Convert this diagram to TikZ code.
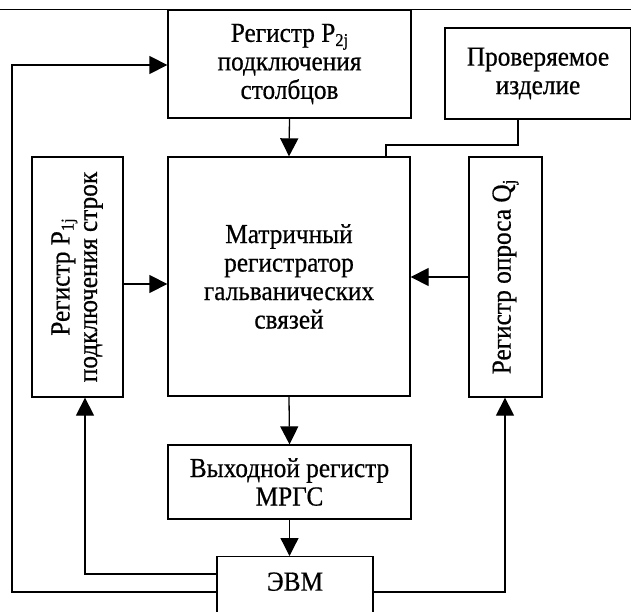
\documentclass[tikz,border=0pt]{standalone}
\usepackage{fontspec}
\setmainfont[FakeStretch=0.92,FakeBold=0.6]{Liberation Serif}
\usetikzlibrary{arrows.meta,calc}
\newcommand\sbs[1]{\raisebox{-0.15em}{\fontsize{18}{18}\selectfont #1}}
\begin{document}
\begin{tikzpicture}[x=1pt,y=-1pt,line width=1.3pt,
  box/.style={draw,line width=1.3pt,align=center,inner sep=0pt,
    font=\fontsize{27.5}{28.5}\selectfont},
  arr/.style={-{Triangle[length=18pt,width=18pt]}},
  wire/.style={line width=1.3pt}]
\useasboundingbox (0,0) rectangle (631,612);
\clip (0,0) rectangle (631,612);
% header rule
\draw[wire] (0,9.5) -- (631,9.5);
% boxes
\node[box,minimum width=243,minimum height=108] (p2) at (289.5,64)
  {Регистр P\sbs{2j}\\подключения\\столбцов};
\node[box,minimum width=186,minimum height=91] (item) at (538,73.5)
  {Проверяемое\\изделие};
\node[box,minimum width=242,minimum height=239] (matrix) at (289,276.5)
  {Матричный\\регистратор\\гальванических\\связей};
\node[box,minimum width=91,minimum height=240] (left) at (77.5,277)
  {\rotatebox{90}{\begin{tabular}{@{}c@{}}Регистр P\sbs{1j}\\[-1pt]подключения строк\end{tabular}}};
\node[box,minimum width=73,minimum height=240] (right) at (505.5,277)
  {\rotatebox{90}{Регистр опроса Q\sbs{j}}};
\node[box,minimum width=243,minimum height=74] (out) at (289.5,482)
  {Выходной регистр\\МРГС};
\node[box,minimum width=156,anchor=north,text height=34pt,text depth=54pt] (evm) at (295,556)
  {ЭВМ};
% connectors
\coordinate (olA) at (12,592);
\coordinate (olB) at (12,65);
\draw[wire,arr] (evm.west |- olA) -- (olA) -- (olB) -- (p2.west |- olB);
\coordinate (ilA) at (85,574);
\draw[wire,arr] (evm.west |- ilA) -- (ilA) -- (ilA |- left.south);
\coordinate (rlA) at (505,592);
\draw[wire,arr] (evm.east |- rlA) -- (rlA) -- (rlA |- right.south);
\coordinate (lm) at (122,284);
\draw[wire,arr] (lm) -- (matrix.west |- lm);
\coordinate (rm) at (469,277);
\draw[wire,arr] (rm) -- (matrix.east |- rm);
\draw[wire,arr] (p2.south) -- (matrix.north);
\draw[wire,arr] (matrix.south) -- (out.north);
\draw[wire,arr] (out.south) -- (out.south |- evm.north);
\coordinate (itA) at (518,145);
\coordinate (itB) at (386,145);
\draw[wire] (itA |- item.south) -- (itA) -- (itB) -- (itB |- matrix.north);
\end{tikzpicture}
\end{document}
